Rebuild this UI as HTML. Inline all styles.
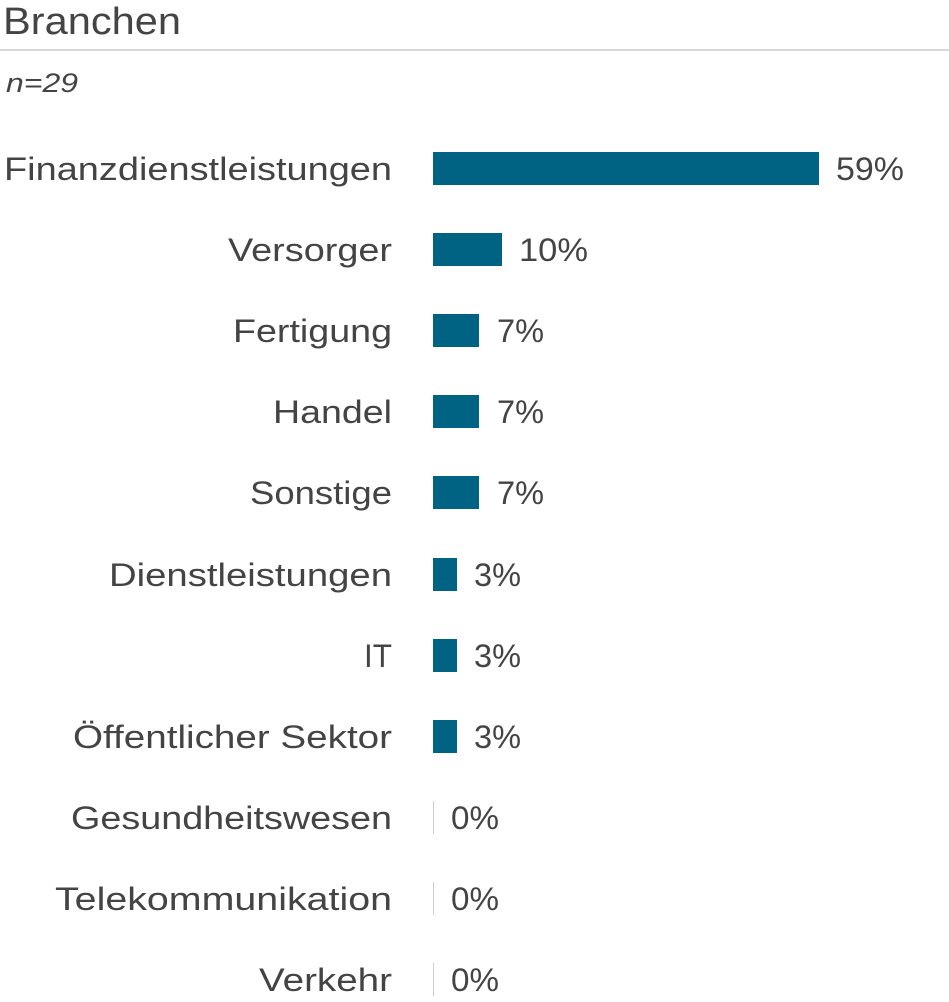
<!DOCTYPE html>
<html><head><meta charset="utf-8"><style>
html,body{margin:0;padding:0;background:#fff;width:949px;height:1002px;overflow:hidden}
text{font-family:"Liberation Sans",sans-serif;fill:#444}
</style></head><body>
<svg width="949" height="1002" xmlns="http://www.w3.org/2000/svg">
<text x="3" y="34" font-size="38" textLength="178" lengthAdjust="spacingAndGlyphs">Branchen</text>
<rect x="0" y="49" width="949" height="2" fill="#d9d9d9"/>
<text x="6" y="92" font-size="27" font-style="italic" textLength="72" lengthAdjust="spacingAndGlyphs">n=29</text>
<g font-size="32">
<text x="392" y="180" text-anchor="end" textLength="388" lengthAdjust="spacingAndGlyphs">Finanzdienstleistungen</text>
<rect x="433" y="152" width="386" height="33" fill="#006383"/>
<text x="836" y="180" textLength="68" lengthAdjust="spacingAndGlyphs">59%</text>

<text x="392" y="261" text-anchor="end" textLength="164" lengthAdjust="spacingAndGlyphs">Versorger</text>
<rect x="433" y="233" width="69" height="33" fill="#006383"/>
<text x="519" y="261" textLength="69" lengthAdjust="spacingAndGlyphs">10%</text>

<text x="392" y="342" text-anchor="end" textLength="159" lengthAdjust="spacingAndGlyphs">Fertigung</text>
<rect x="433" y="314" width="46" height="33" fill="#006383"/>
<text x="497" y="342" textLength="47" lengthAdjust="spacingAndGlyphs">7%</text>

<text x="392" y="423" text-anchor="end" textLength="119" lengthAdjust="spacingAndGlyphs">Handel</text>
<rect x="433" y="395" width="46" height="33" fill="#006383"/>
<text x="497" y="423" textLength="47" lengthAdjust="spacingAndGlyphs">7%</text>

<text x="392" y="504" text-anchor="end" textLength="142" lengthAdjust="spacingAndGlyphs">Sonstige</text>
<rect x="433" y="476" width="46" height="33" fill="#006383"/>
<text x="497" y="504" textLength="47" lengthAdjust="spacingAndGlyphs">7%</text>

<text x="392" y="586" text-anchor="end" textLength="283" lengthAdjust="spacingAndGlyphs">Dienstleistungen</text>
<rect x="433" y="558" width="24" height="33" fill="#006383"/>
<text x="474" y="586" textLength="47" lengthAdjust="spacingAndGlyphs">3%</text>

<text x="392" y="667" text-anchor="end" textLength="28" lengthAdjust="spacingAndGlyphs">IT</text>
<rect x="433" y="639" width="24" height="33" fill="#006383"/>
<text x="474" y="667" textLength="47" lengthAdjust="spacingAndGlyphs">3%</text>

<text x="392" y="748" text-anchor="end" textLength="319" lengthAdjust="spacingAndGlyphs">Öffentlicher Sektor</text>
<rect x="433" y="720" width="24" height="33" fill="#006383"/>
<text x="474" y="748" textLength="47" lengthAdjust="spacingAndGlyphs">3%</text>

<text x="392" y="829" text-anchor="end" textLength="321" lengthAdjust="spacingAndGlyphs">Gesundheitswesen</text>
<rect x="433" y="801" width="1" height="33" fill="#ccc"/>
<text x="451" y="829" textLength="48" lengthAdjust="spacingAndGlyphs">0%</text>

<text x="392" y="910" text-anchor="end" textLength="337" lengthAdjust="spacingAndGlyphs">Telekommunikation</text>
<rect x="433" y="882" width="1" height="33" fill="#ccc"/>
<text x="451" y="910" textLength="48" lengthAdjust="spacingAndGlyphs">0%</text>

<text x="392" y="991" text-anchor="end" textLength="133" lengthAdjust="spacingAndGlyphs">Verkehr</text>
<rect x="433" y="963" width="1" height="33" fill="#ccc"/>
<text x="451" y="991" textLength="48" lengthAdjust="spacingAndGlyphs">0%</text>
</g>
</svg>
</body></html>
